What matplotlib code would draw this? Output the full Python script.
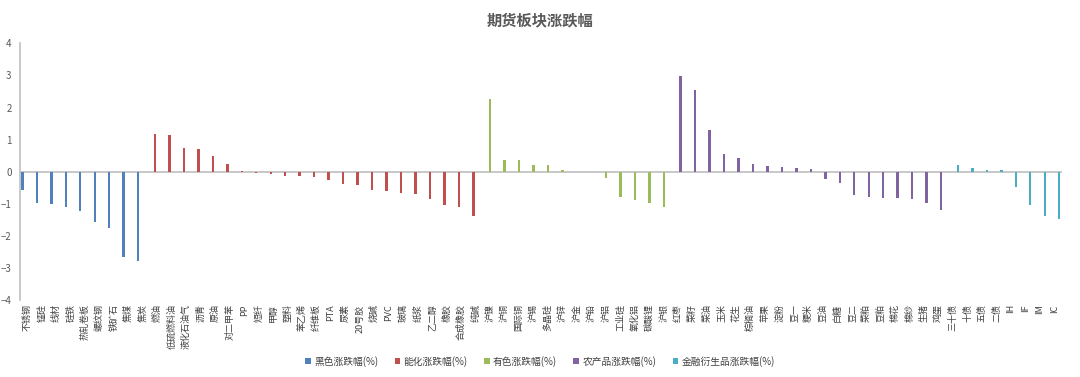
import matplotlib
matplotlib.use("Agg")
import matplotlib.pyplot as plt
from matplotlib.patches import Patch
import numpy as np

plt.rcParams['font.family'] = ['Noto Sans CJK SC', 'DejaVu Sans']

title = "期货板块涨跌幅"

black_names = ["不锈钢", "锰硅", "线材", "硅铁", "热轧卷板", "螺纹钢", "铁矿石", "焦煤", "焦炭"]
black_vals = [-0.57, -0.96, -1.02, -1.11, -1.23, -1.58, -1.74, -2.65, -2.78]

energy_names = ["燃油", "低硫燃料油", "液化石油气", "沥青", "原油", "对二甲苯", "PP", "短纤", "甲醇",
                "塑料", "苯乙烯", "纤维板", "PTA", "尿素", "20号胶", "烧碱", "PVC", "玻璃", "纸浆",
                "乙二醇", "橡胶", "合成橡胶", "纯碱"]
energy_vals = [1.19, 1.15, 0.74, 0.70, 0.48, 0.23, 0.01, -0.04, -0.08,
               -0.14, -0.12, -0.17, -0.26, -0.37, -0.41, -0.57, -0.59, -0.65, -0.69,
               -0.85, -1.03, -1.09, -1.38]

metal_names = ["沪镍", "沪铜", "国际铜", "沪锡", "多晶硅", "沪锌", "沪金", "沪铅", "沪铝",
               "工业硅", "氧化铝", "碳酸锂", "沪银"]
metal_vals = [2.26, 0.38, 0.36, 0.21, 0.21, 0.06, 0.0, 0.0, -0.18,
              -0.78, -0.89, -0.96, -1.09]

agri_names = ["红枣", "菜籽", "菜油", "玉米", "花生", "棕榈油", "苹果", "淀粉", "豆一", "粳米",
              "豆油", "白糖", "豆二", "菜粕", "豆粕", "棉花", "棉纱", "生猪", "鸡蛋"]
agri_vals = [2.97, 2.54, 1.30, 0.55, 0.42, 0.24, 0.19, 0.16, 0.12, 0.08,
             -0.22, -0.34, -0.74, -0.78, -0.81, -0.81, -0.86, -0.99, -1.19]

fin_names = ["三十债", "十债", "五债", "二债", "IH", "IF", "IM", "IC"]
fin_vals = [0.21, 0.12, 0.05, 0.04, -0.47, -1.03, -1.38, -1.46]

series_labels = ["黑色涨跌幅(%)", "能化涨跌幅(%)", "有色涨跌幅(%)", "农产品涨跌幅(%)", "金融衍生品涨跌幅(%)"]
colors = ["#4F81BD", "#C0504D", "#9BBB59", "#8064A2", "#4BACC6"]

groups = [(black_names, black_vals), (energy_names, energy_vals), (metal_names, metal_vals),
          (agri_names, agri_vals), (fin_names, fin_vals)]

fig = plt.figure(figsize=(10.8, 3.77), dpi=100)
ax = fig.add_axes([0.0185, 0.204, 0.9645, 0.681])

all_names = []
bw = 0.166
start = 0
for si, (names, vals) in enumerate(groups):
    x = np.arange(start, start + len(names)) + (si - 2) * bw
    ax.bar(x, vals, width=bw, color=colors[si], linewidth=0)
    all_names += names
    start += len(names)

n = len(all_names)
ax.set_xlim(-0.5, n - 0.5)
ax.set_ylim(-4, 4)
ax.axhline(0, color="#BFBFBF", lw=1.2, zorder=0)
ax.set_xticks(np.arange(n))
ax.set_xticklabels(all_names, rotation=90, fontsize=6.5, color="#404040")
ax.set_yticks(np.arange(-4, 5, 1))
ax.tick_params(axis='y', labelsize=7, colors="#595959", length=0, pad=6)
ax.tick_params(axis='x', length=0, pad=3)
for s in ["top", "right", "bottom"]:
    ax.spines[s].set_visible(False)
ax.spines["left"].set_color("#BFBFBF")
ax.spines["left"].set_linewidth(1.2)

fig.text(0.5, 0.945, title, ha="center", va="center", fontsize=11, fontweight="bold", color="#595959")

handles = [Patch(facecolor=c, edgecolor='none') for c in colors]
fig.legend(handles, series_labels, loc="center", bbox_to_anchor=(0.5, 0.042), ncol=5,
           frameon=False, fontsize=7, handlelength=0.6, handleheight=0.6, handletextpad=0.3,
           columnspacing=1.7, labelcolor="#404040")

fig.savefig("out.png", dpi=100)
